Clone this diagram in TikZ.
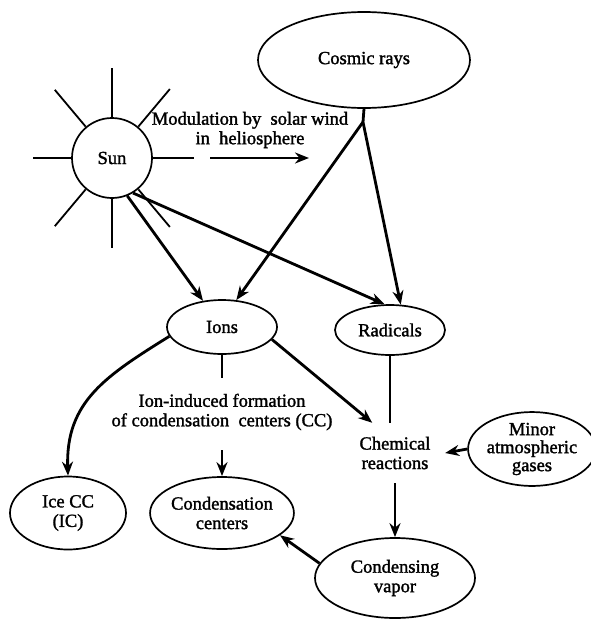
\documentclass[tikz,border=0pt]{standalone}
\usepackage{fontspec}
\setmainfont{Liberation Serif}
\newfontfamily\lblfont[FakeBold=1.6]{Liberation Serif}
\usetikzlibrary{shapes.geometric,arrows.meta,calc}
\begin{document}
\begin{tikzpicture}[x=1pt,y=1pt,
  every node/.style={font=\lblfont\fontsize{18.5}{19.5}\selectfont},
  oval/.style={draw, ellipse, line width=1.7pt, inner sep=0pt, align=center},
  arr/.style={line width=2.8pt, -{Stealth[length=14pt,width=11pt]}},
  ln/.style={line width=2.8pt},
  ray/.style={line width=1.8pt}]
\useasboundingbox (0,0) rectangle (590,-619);
% nodes
\node[draw, circle, line width=1.7pt, minimum size=80pt, inner sep=0pt] (sun) at (112,-158) {Sun};
\node[oval, minimum width=212pt, minimum height=96pt] (cosmic) at (364,-60) {Cosmic rays};
\node[oval, minimum width=110pt, minimum height=54pt] (ions) at (222,-327) {Ions};
\node[oval, minimum width=110pt, minimum height=50pt] (rad) at (390,-330) {Radicals};
\node[oval, minimum width=116pt, minimum height=73pt] (ice) at (68,-513) {Ice CC\\(IC)};
\node[oval, minimum width=116pt, minimum height=72pt] (cc) at (222,-513) {Condensation\\centers};
\node[oval, minimum width=114pt, minimum height=72pt, font=\lblfont\fontsize{18.5}{18}\selectfont] (minor) at (532,-449) {Minor\\atmospheric\\gases};
\node[oval, minimum width=160pt, minimum height=80pt] (vapor) at (395,-578) {Condensing\\vapor};
\node[align=center, minimum width=100pt, minimum height=60pt, inner sep=0pt] (chem) at (395,-453) {Chemical\\reactions};
\node[align=center, inner sep=0pt] (mod) at (250,-130) {Modulation by\ \ solar wind\\in\ \ heliosphere};
\node[align=center, inner sep=0pt] (iif) at (222,-412) {Ion-induced formation\\of condensation\ \ centers (CC)};
% sun rays
\foreach \a/\r in {0/82,50/90,90/90,130/89,180/79,230/89,270/90,310/90}
  \draw[ray] ($(sun.center)+(\a:41)$) -- ($(sun.center)+(\a:\r)$);
% connectors
\coordinate (m1) at (210,-158);
\coordinate (m2) at (309,-158);
\draw[arr] (m1) -- (m2);
\coordinate (br) at (363,-122);
\draw[ln] (cosmic.south) -- (br);
\draw[arr] (br) -- (ions.62);
\draw[arr] (br) -- (rad.67);
\draw[arr] (sun.292) -- (ions.126);
\draw[arr] (sun.301) -- (rad.102);
\draw[arr] (ions.190) to[out=212,in=92,looseness=1.1] (ice.north);
\coordinate (s1) at (222,-378);
\draw[ln] (ions.south) -- (s1);
\coordinate (s2) at (222,-450);
\draw[arr] (s2) -- (cc.north);
\draw[arr] (ions.346) -- (chem.127);
\draw[ln] (rad.south) -- (rad.south |- chem.north);
\draw[arr] (minor.west) -- (chem.east);
\draw[arr] (chem.south) -- (vapor.north);
\draw[arr] (vapor.169) -- (cc.339);
\end{tikzpicture}
\end{document}
